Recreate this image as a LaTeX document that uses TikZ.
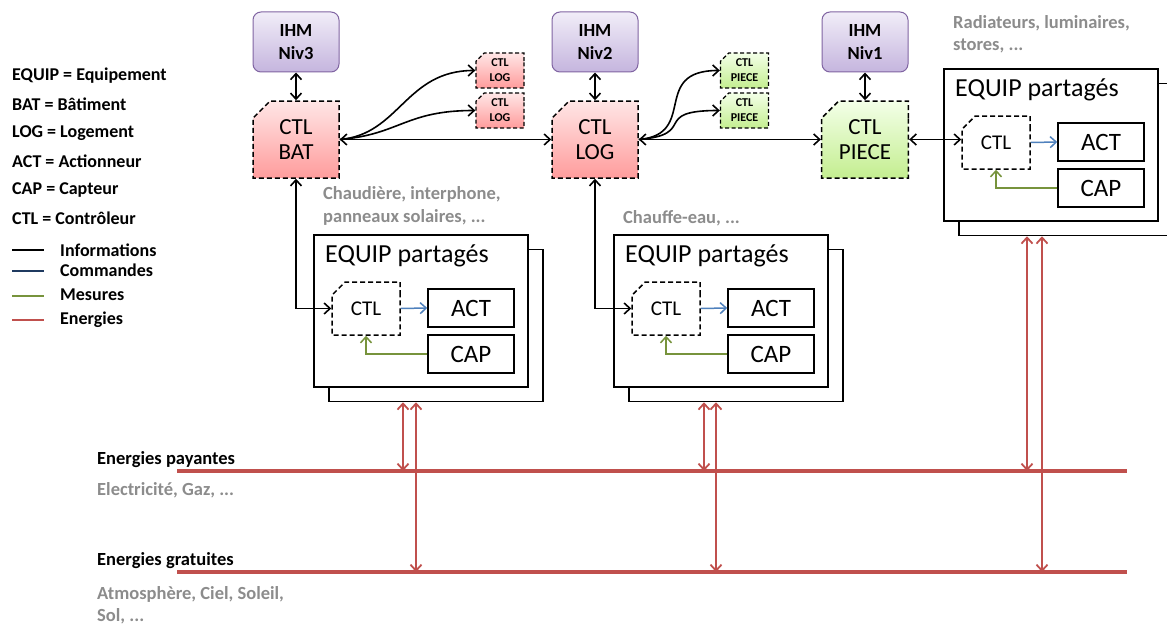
\documentclass[tikz,border=0pt]{standalone}
\usepackage{fontspec}
\setmainfont{Carlito}
\usetikzlibrary{arrows.meta,shapes.misc}

\definecolor{ihmline}{HTML}{8064A2}
\definecolor{ihmtop}{HTML}{F1EDF8}
\definecolor{ihmbot}{HTML}{C5B5DE}
\definecolor{battop}{HTML}{FFE6E6}
\definecolor{batbot}{HTML}{FF9C9C}
\definecolor{piecetop}{HTML}{F3FFE8}
\definecolor{piecebot}{HTML}{C4EE90}
\definecolor{energie}{HTML}{C0504D}
\definecolor{commande}{HTML}{4F81BD}
\definecolor{cmdlegend}{HTML}{1F3A60}
\definecolor{mesure}{HTML}{77933C}
\definecolor{grisnote}{HTML}{8C8C8C}

\tikzset{
  ihm/.style={rectangle, rounded corners=8pt, draw=ihmline, line width=1pt, top color=ihmtop, bottom color=ihmbot, minimum width=86pt, minimum height=60pt, align=center, font=\fontsize{18.5}{23}\selectfont\bfseries},
  ctlbox/.style={chamfered rectangle, chamfered rectangle corners=north west, chamfered rectangle xsep=14pt, draw, line width=1.5pt, dash pattern=on 5pt off 3pt, minimum width=86pt, minimum height=77pt, align=center, font=\fontsize{23}{25}\selectfont},
  ctlsmall/.style={chamfered rectangle, chamfered rectangle corners=north west, chamfered rectangle xsep=5pt, draw, line width=1.3pt, dash pattern=on 4pt off 2.5pt, minimum width=48pt, minimum height=35pt, inner sep=1pt, align=center, font=\fontsize{12}{15}\selectfont\bfseries},
  ctleq/.style={chamfered rectangle, chamfered rectangle corners=north west, chamfered rectangle xsep=10pt, draw, line width=1.5pt, dash pattern=on 5pt off 3pt, minimum width=68pt, minimum height=53pt, font=\fontsize{21}{24}\selectfont},
  backbox/.style={rectangle, draw, line width=1.5pt, fill=white, minimum width=214pt, minimum height=152pt},
  frontbox/.style={backbox},
  eqtitle/.style={inner sep=0pt, font=\fontsize{26}{28}\selectfont},
  actbox/.style={rectangle, draw, line width=1.5pt, minimum width=86pt, minimum height=38pt, font=\fontsize{25}{28}\selectfont},
  info/.style={line width=1.6pt},
  cmd/.style={commande, line width=1.5pt},
  mes/.style={mesure, line width=1.5pt},
  eline/.style={energie, line width=3.8pt},
  earr/.style={energie, line width=1.8pt},
  legende/.style={anchor=west, inner sep=0pt, font=\fontsize{18}{21}\selectfont\bfseries},
  note/.style={anchor=west, inner sep=0pt, align=left, grisnote, font=\fontsize{18.5}{22.5}\selectfont\bfseries}
}

\begin{document}
\begin{tikzpicture}[x=1pt, y=-1pt, >={Straight Barb[length=6pt,width=11pt]}]
\clip (0,0) rectangle (1167,626);

% Legende
\node[legende] (lequip) at (12,76) {EQUIP = Equipement};
\node[legende] (lbat) at (12,104) {BAT = Bâtiment};
\node[legende] (llog) at (12,133) {LOG = Logement};
\node[legende] (lact) at (12,161) {ACT = Actionneur};
\node[legende] (lcap) at (12,190) {CAP = Capteur};
\node[legende] (lctl) at (12,218) {CTL = Contrôleur};
\draw[line width=2.5pt] (12,250) -- (44,250);
\draw[line width=2.5pt, cmdlegend] (12,271) -- (44,271);
\draw[line width=2.5pt, mesure] (12,296) -- (44,296);
\draw[line width=2.5pt, energie] (12,320) -- (44,320);
\node[legende] (linfo) at (60,250) {Informations};
\node[legende] (lcmd) at (60,270) {Commandes};
\node[legende] (lmes) at (60,295) {Mesures};
\node[legende] (lene) at (60,320) {Energies};

% IHM et controleurs
\node[ihm] (ihm3) at (296,42) {IHM\\Niv3};
\node[ihm] (ihm2) at (595,42) {IHM\\Niv2};
\node[ihm] (ihm1) at (865,42) {IHM\\Niv1};
\node[ctlbox, top color=battop, bottom color=batbot] (ctlbat) at (296,139.5) {CTL\\BAT};
\node[ctlbox, top color=battop, bottom color=batbot] (ctllog) at (595,139.5) {CTL\\LOG};
\node[ctlbox, top color=piecetop, bottom color=piecebot] (ctlpiece) at (865,139.5) {CTL\\PIECE};
\node[ctlsmall, top color=battop, bottom color=batbot] (logA) at (500,70.5) {CTL\\LOG};
\node[ctlsmall, top color=battop, bottom color=batbot] (logB) at (500,110.5) {CTL\\LOG};
\node[ctlsmall, top color=piecetop, bottom color=piecebot] (pieceA) at (744.5,70.5) {CTL\\PIECE};
\node[ctlsmall, top color=piecetop, bottom color=piecebot] (pieceB) at (744.5,110.5) {CTL\\PIECE};

% Equipements partages
\foreach \g/\dx/\dy in {bat/0/0, log/300/0, piece/630/-166}{
  \node[backbox] (back-\g) at (436+\dx,325.5+\dy) {};
  \node[frontbox] (front-\g) at (421+\dx,311+\dy) {};
  \node[eqtitle, anchor=west] (titre-\g) at (325+\dx,256+\dy) {EQUIP partagés};
  \node[ctleq] (ctl-\g) at (366+\dx,308.5+\dy) {CTL};
  \node[actbox] (act-\g) at (471+\dx,308+\dy) {ACT};
  \node[actbox] (cap-\g) at (471+\dx,354+\dy) {CAP};
  \draw[cmd,->] (ctl-\g.east) -- (act-\g.west);
  \draw[mes,->] (cap-\g.west) -| (ctl-\g.south);
}

% Notes
\node[note] (nbat) at (323,206) {Chaudière, interphone,\\panneaux solaires, ...};
\node[note] (nlog) at (623,218) {Chauffe-eau, ...};
\node[note] (npiece) at (953,34.5) {Radiateurs, luminaires,\\stores, ...};

% Informations
\draw[info,<->] (ihm3) -- (ctlbat);
\draw[info,<->] (ihm2) -- (ctllog);
\draw[info,<->] (ihm1) -- (ctlpiece);
\draw[info,<->] (ctlbat.east) -- (ctllog.west);
\draw[info,<->] (ctllog.east) -- (ctlpiece.west);
\draw[info,<->] (ctlpiece.east) -- (ctlpiece.east -| ctl-piece.west);
\draw[info,->] (ctlbat.east) .. controls +(60,-5) and +(-70,0) .. (logA.west);
\draw[info,->] (ctlbat.east) .. controls +(60,-5) and +(-70,0) .. (logB.west);
\draw[info,->] (ctllog.east) .. controls +(60,-5) and +(-70,0) .. (pieceA.west);
\draw[info,->] (ctllog.east) .. controls +(60,-5) and +(-70,0) .. (pieceB.west);
\draw[info,<->] (ctlbat.south) |- (ctl-bat.west);
\draw[info,<->] (ctllog.south) |- (ctl-log.west);

% Energies
\coordinate (payW) at (177,471);
\coordinate (payE) at (1127,471);
\coordinate (graW) at (177,572);
\coordinate (graE) at (1127,572);
\draw[eline] (payW) -- (payE);
\draw[eline] (graW) -- (graE);
\node[legende, font=\fontsize{18.5}{21}\selectfont\bfseries] (tpay) at (97,460) {Energies payantes};
\node[note] (npay) at (97,490) {Electricité, Gaz, ...};
\node[legende, font=\fontsize{18.5}{21}\selectfont\bfseries] (tgra) at (97,561) {Energies gratuites};
\node[note] (ngra) at (97,605.5) {Atmosphère, Ciel, Soleil,\\Sol, ...};

\draw[earr,<->] ([xshift=-33pt]back-bat.south) -- ([xshift=-33pt]back-bat.south |- payW);
\draw[earr,<->] ([xshift=-20pt]back-bat.south) -- ([xshift=-20pt]back-bat.south |- graW);
\draw[earr,<->] ([xshift=-32pt]back-log.south) -- ([xshift=-32pt]back-log.south |- payW);
\draw[earr,<->] ([xshift=-20pt]back-log.south) -- ([xshift=-20pt]back-log.south |- graW);
\draw[earr,<->] ([xshift=-39pt]back-piece.south) -- ([xshift=-39pt]back-piece.south |- payW);
\draw[earr,<->] ([xshift=-24pt]back-piece.south) -- ([xshift=-24pt]back-piece.south |- graW);
\end{tikzpicture}
\end{document}
